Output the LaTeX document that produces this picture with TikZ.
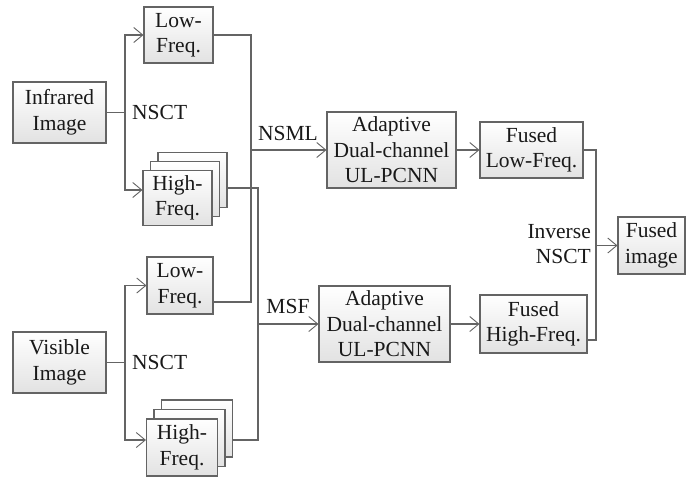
\documentclass[tikz,border=0pt]{standalone}
\usepackage{fontspec}
\setmainfont{Liberation Serif}
\usetikzlibrary{arrows.meta}
\definecolor{linegray}{RGB}{100,100,100}
\definecolor{txtcol}{RGB}{25,25,25}
\definecolor{boxshade}{RGB}{226,226,226}
\newcommand{\lblfont}{\fontsize{21.5}{25.5}\selectfont}
\begin{document}
\begin{tikzpicture}[x=1pt,y=-1pt,
  box/.style={draw=linegray,line width=1.1pt,top color=white,bottom color=boxshade,
    align=center,inner sep=0pt,text=txtcol,font=\lblfont},
  conn/.style={draw=linegray,line width=1.1pt},
  arr/.style={conn,-{Straight Barb[length=9pt,width=15pt,line width=0.9pt]}},
  lbl/.style={text=txtcol,font=\lblfont,inner sep=0pt}]
\useasboundingbox (0,0) rectangle (686,479);

% inputs
\node[box,minimum width=93pt,minimum height=61pt] (ir) at (59.5,112.5) {Infrared\\Image};
\node[box,minimum width=93pt,minimum height=61pt] (vis) at (59.5,362.5) {Visible\\Image};

% infrared decomposition
\node[box,minimum width=69pt,minimum height=56pt] (irlow) at (178.5,35) {Low-\\Freq.};
\node[box,minimum width=69pt,minimum height=55pt] (irhb) at (192.5,180) {};
\node[box,minimum width=69pt,minimum height=55pt] (irhm) at (185,189) {};
\node[box,minimum width=69pt,minimum height=55pt] (irhigh) at (177.5,198) {High-\\Freq.};

% visible decomposition
\node[box,minimum width=66pt,minimum height=57pt] (vislow) at (180,285.5) {Low-\\Freq.};
\node[box,minimum width=71pt,minimum height=57pt] (vishb) at (197,428.5) {};
\node[box,minimum width=71pt,minimum height=57pt] (vishm) at (189.5,438) {};
\node[box,minimum width=71pt,minimum height=57pt] (vishigh) at (182,447.5) {High-\\Freq.};

% fusion
\node[box,minimum width=129pt,minimum height=76pt] (ad1) at (391.5,150) {Adaptive\\Dual-channel\\UL-PCNN};
\node[box,minimum width=131pt,minimum height=76pt] (ad2) at (384.5,324) {Adaptive\\Dual-channel\\UL-PCNN};
\node[box,minimum width=103pt,minimum height=56pt] (flow) at (531.5,150) {Fused\\Low-Freq.};
\node[box,minimum width=107pt,minimum height=58pt] (fhigh) at (533.5,324) {Fused\\High-Freq.};
\node[box,minimum width=67pt,minimum height=57pt] (fimg) at (651.5,245.5) {Fused\\image};

% bus points
\coordinate (irbus) at (125,112.5);
\coordinate (visbus) at (125,362.5);
\coordinate (lowbus) at (251,150);
\coordinate (highbus) at (258,324);
\coordinate (outbus) at (596,245.5);

% connectors
\draw[conn] (ir.east) -- (irbus);
\draw[arr] (irbus) |- (irlow.west);
\draw[arr] (irbus) |- ([yshift=8pt]irhigh.west);
\draw[conn] (vis.east) -- (visbus);
\draw[arr] (visbus) |- (vislow.west);
\draw[arr] (visbus) |- ([yshift=7.5pt]vishigh.west);

\draw[conn] (irlow.east) -| (lowbus);
\draw[conn] ([yshift=-16.5pt]vislow.east) -| (lowbus);
\draw[arr] (lowbus) -- (ad1.west);

\draw[conn] ([yshift=-8pt]irhb.east) -| (highbus);
\draw[conn] ([yshift=-11.5pt]vishb.east) -| (highbus);
\draw[arr] (highbus) -- (ad2.west);

\draw[arr] (ad1) -- (flow);
\draw[arr] (ad2) -- (fhigh);
\draw[conn] (flow.east) -| (outbus);
\draw[conn] ([yshift=-16pt]fhigh.east) -| (outbus);
\draw[arr] (outbus) -- (fimg.west);

% labels
\node[lbl,anchor=west] (nsct1) at (132,112.5) {NSCT};
\node[lbl,anchor=west] (nsct2) at (132,362.5) {NSCT};
\node[lbl] (nsml) at (288,133) {NSML};
\node[lbl] (msf) at (288,306) {MSF};
\node[lbl,align=right,anchor=east] (inv) at (591,244) {Inverse\\NSCT};
\end{tikzpicture}
\end{document}
